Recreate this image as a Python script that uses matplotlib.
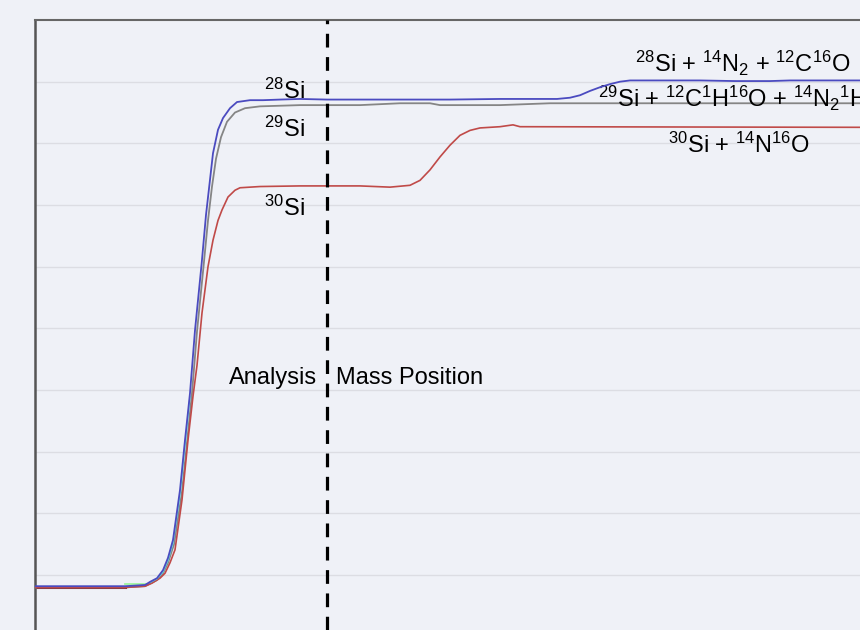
import numpy as np
import matplotlib
matplotlib.use('Agg')
import matplotlib.pyplot as plt

plt.rcParams['font.family'] = ['Liberation Sans', 'DejaVu Sans']
plt.rcParams['mathtext.fontset'] = 'custom'
plt.rcParams['mathtext.rm'] = 'Liberation Sans'
plt.rcParams['mathtext.it'] = 'Liberation Sans:italic'

# scan position (channel) and signal level for each isotope trace
si28_x = [0, 90, 110, 115, 122, 128, 133, 138, 145, 150, 155, 160, 166.7, 171, 175, 178, 183, 188, 195,
          202, 215, 228, 245, 265, 292, 325, 365, 415, 465, 522, 535, 545, 555, 565, 575, 585, 595,
          615, 665, 700, 715, 735, 755, 775, 825]
si28_y = [-0.18, -0.18, -0.16, -0.11, -0.05, 0.08, 0.28, 0.57, 1.38, 2.19, 2.95, 3.97, 5.06, 5.84,
          6.41, 6.84, 7.22, 7.41, 7.57, 7.67, 7.70, 7.70, 7.71, 7.72, 7.71, 7.71, 7.71, 7.71, 7.72,
          7.72, 7.74, 7.78, 7.85, 7.91, 7.96, 8.00, 8.02, 8.02, 8.02, 8.01, 8.01, 8.01, 8.02, 8.02, 8.02]

si29_x = [0, 90, 110, 115, 122, 128, 133, 139, 147, 152, 157, 162, 168.5, 173, 177, 181, 186, 192,
          200, 210, 225, 265, 292, 325, 365, 395, 405, 465, 515, 825]
si29_y = [-0.20, -0.20, -0.18, -0.14, -0.08, 0.03, 0.20, 0.50, 1.35, 2.15, 2.95, 3.95, 5.00, 5.75,
          6.30, 6.75, 7.10, 7.35, 7.50, 7.57, 7.60, 7.62, 7.62, 7.62, 7.65, 7.65, 7.62, 7.62, 7.65, 7.65]

si30_x = [0, 90, 110, 117, 125, 130, 135, 140, 147, 153, 158, 162, 167, 173, 178, 183, 187, 193, 200,
          205, 225, 265, 325, 355, 375, 385, 395, 405, 415, 425, 435, 445, 465, 478, 485, 825]
si30_y = [-0.20, -0.20, -0.18, -0.13, -0.05, 0.03, 0.20, 0.41, 1.22, 2.19, 2.90, 3.40, 4.25, 5.00,
          5.43, 5.75, 5.92, 6.13, 6.24, 6.28, 6.30, 6.31, 6.31, 6.29, 6.32, 6.40, 6.57, 6.78, 6.97,
          7.13, 7.21, 7.25, 7.27, 7.30, 7.27, 7.26]

# faint extra traces hugging the baseline and the start of the rise
base_x = [0, 90]
base_y = [-0.19, -0.19]
green_x = [90, 113]
green_y = [-0.15, -0.15]
cyan_x = [115, 122, 128, 133, 138, 145, 150, 155]
cyan_y = [-0.12, -0.06, 0.05, 0.24, 0.52, 1.30, 2.10, 2.90]

analysis_pos = 292

fig = plt.figure(figsize=(8.6, 6.3), dpi=100)
fig.patch.set_facecolor('#eff1f7')
ax = fig.add_axes([35 / 860, 0, 825 / 860, 610 / 630])
ax.set_facecolor('#eff1f7')

for k in range(0, 9):
    ax.axhline(k, color='#dcdde3', lw=1.0, zorder=0)

ax.plot(base_x, base_y, color='#7a1020', lw=2.2, zorder=2)
ax.plot(green_x, green_y, color='#9ef59e', lw=1.3, zorder=2)
ax.plot(si29_x, si29_y, color='#858585', lw=1.3, zorder=3)
ax.plot(si30_x, si30_y, color='#c04a48', lw=1.2, zorder=3)
ax.plot(cyan_x, cyan_y, color='#5ee0e0', lw=1.0, zorder=3)
ax.plot(si28_x, si28_y, color='#4b4bc0', lw=1.3, zorder=4)

ax.axvline(analysis_pos, color='black', lw=2.3, dashes=(4.3, 3.0), zorder=5)

fs = 17
ax.text(270, 7.85, r'$^{28}$Si', fontsize=fs, ha='right', va='center')
ax.text(270, 7.22, r'$^{29}$Si', fontsize=fs, ha='right', va='center')
ax.text(270, 5.94, r'$^{30}$Si', fontsize=fs, ha='right', va='center')
ax.text(600, 8.29, r'$^{28}$Si + $^{14}$N$_2$ + $^{12}$C$^{16}$O', fontsize=fs, ha='left', va='center')
ax.text(563, 7.73, r'$^{29}$Si + $^{12}$C$^{1}$H$^{16}$O + $^{14}$N$_2$$^{1}$H', fontsize=fs,
        ha='left', va='center')
ax.text(633, 6.97, r'$^{30}$Si + $^{14}$N$^{16}$O', fontsize=fs, ha='left', va='center')
ax.text(analysis_pos - 10, 3.2, 'Analysis', fontsize=fs, ha='right', va='center')
ax.text(analysis_pos + 9, 3.2, 'Mass Position', fontsize=fs, ha='left', va='center')

ax.set_xlim(0, 825)
ax.set_ylim(-0.89, 9.0)
ax.set_xticks([])
ax.set_yticks([])
ax.spines['right'].set_visible(False)
ax.spines['bottom'].set_visible(False)
ax.spines['left'].set_color('#555555')
ax.spines['left'].set_linewidth(1.8)
ax.spines['top'].set_color('#666666')
ax.spines['top'].set_linewidth(1.5)

fig.savefig('out.png', dpi=100, facecolor=fig.get_facecolor())
